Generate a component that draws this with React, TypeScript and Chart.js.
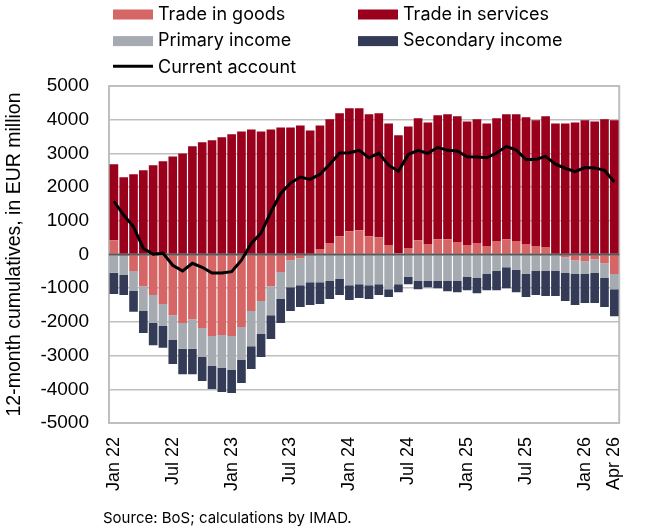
import { useEffect, useRef } from 'react';
import { Chart, registerables, type Plugin } from 'chart.js';

Chart.register(...registerables);

// monthly categories, Jan 22 - Apr 26
const months = [
    'Jan 22', 'Feb 22', 'Mar 22', 'Apr 22', 'May 22', 'Jun 22', 'Jul 22', 'Aug 22', 'Sep 22', 'Oct 22', 'Nov 22', 'Dec 22',
    'Jan 23', 'Feb 23', 'Mar 23', 'Apr 23', 'May 23', 'Jun 23', 'Jul 23', 'Aug 23', 'Sep 23', 'Oct 23', 'Nov 23', 'Dec 23',
    'Jan 24', 'Feb 24', 'Mar 24', 'Apr 24', 'May 24', 'Jun 24', 'Jul 24', 'Aug 24', 'Sep 24', 'Oct 24', 'Nov 24', 'Dec 24',
    'Jan 25', 'Feb 25', 'Mar 25', 'Apr 25', 'May 25', 'Jun 25', 'Jul 25', 'Aug 25', 'Sep 25', 'Oct 25', 'Nov 25', 'Dec 25',
    'Jan 26', 'Feb 26', 'Mar 26', 'Apr 26',
];

const shownTicks = ['Jan 22', 'Jul 22', 'Jan 23', 'Jul 23', 'Jan 24', 'Jul 24', 'Jan 25', 'Jul 25', 'Jan 26', 'Apr 26'];

// 12-month cumulatives, EUR million
const tradeGoods = [
    425, -15, -490, -940, -1200, -1470, -1800, -2030, -1920, -2180, -2420, -2390,
    -2420, -2150, -1680, -1380, -940, -520, -170, -110, -30, 160, 340, 540,
    690, 720, 540, 510, 280, 40, 190, 420, 310, 450, 450, 370,
    280, 340, 250, 400, 450, 400, 310, 250, 220, 0, -80, -170,
    -200, -140, -260, -580,
];

const tradeServices = [
    2255, 2290, 2380, 2500, 2650, 2770, 2910, 3000, 3210, 3330, 3390, 3480,
    3570, 3650, 3710, 3650, 3710, 3770, 3770, 3830, 3680, 3670, 3670, 3650,
    3650, 3620, 3620, 3680, 3610, 3500, 3610, 3620, 3610, 3680, 3710, 3730,
    3670, 3670, 3640, 3640, 3710, 3760, 3760, 3730, 3880, 3890, 3890, 3920,
    3980, 3950, 4010, 3980,
];

const primaryIncome = [
    -545, -595, -590, -740, -830, -650, -740, -770, -880, -860, -890, -980,
    -1010, -980, -1040, -980, -860, -800, -800, -800, -790, -820, -790, -730,
    -910, -880, -910, -880, -1030, -880, -670, -790, -790, -790, -790, -790,
    -670, -700, -580, -490, -380, -460, -580, -490, -490, -490, -470, -410,
    -380, -410, -440, -450,
];

const secondaryIncome = [
    -625, -595, -620, -650, -660, -650, -710, -750, -750, -710, -680, -710,
    -680, -680, -680, -680, -710, -710, -710, -650, -680, -650, -530, -470,
    -440, -410, -410, -320, -230, -240, -210, -240, -180, -210, -300, -330,
    -390, -450, -480, -570, -620, -660, -680, -710, -740, -740, -830, -920,
    -860, -890, -860, -800,
];

const currentAccount = [
    1580, 1170, 820, 180, 10, 40, -320, -490, -260, -380, -550, -550,
    -510, -170, 330, 640, 1260, 1810, 2120, 2300, 2230, 2380, 2680, 3010,
    3020, 3090, 2870, 3010, 2650, 2470, 2970, 3090, 3000, 3180, 3090, 3070,
    2900, 2890, 2870, 3010, 3210, 3100, 2820, 2820, 2910, 2680, 2560, 2460,
    2580, 2570, 2500, 2150,
];

const TEXT_FONT = 'Inter, "Open Sans", sans-serif';
const AXIS_FONT = '"Liberation Sans", Arial, sans-serif';

// legend laid out in two columns above the plot, like the original
const legendPlugin: Plugin = {
    id: 'twoColLegend',
    afterDraw(chart) {
        const ctx = chart.ctx;
        ctx.save();
        ctx.font = `18px ${TEXT_FONT}`;
        ctx.textBaseline = 'alphabetic';
        ctx.fillStyle = '#000';
        chart.data.datasets.forEach((ds, i) => {
            const col = i < 4 ? i % 2 : 0;
            const row = Math.floor(i / 2);
            const x = 113 + col * 245;
            const base = 19.5 + row * 26.6;
            if ((ds as any).type === 'line') {
                ctx.strokeStyle = ds.borderColor as string;
                ctx.lineWidth = 3;
                ctx.beginPath();
                ctx.moveTo(x, base - 6.5);
                ctx.lineTo(x + 40, base - 6.5);
                ctx.stroke();
            } else {
                ctx.fillStyle = ds.backgroundColor as string;
                ctx.fillRect(x, base - 10, 40, 10);
            }
            ctx.fillStyle = '#000';
            ctx.fillText(ds.label ?? '', x + 45, base);
        });
        ctx.font = `15px ${TEXT_FONT}`;
        ctx.fillText('Source: BoS; calculations by IMAD.', 103, 523);
        ctx.restore();
    },
};

// plot frame behind the bars
const framePlugin: Plugin = {
    id: 'frame',
    beforeDatasetsDraw(chart) {
        const { ctx, chartArea } = chart;
        ctx.save();
        ctx.strokeStyle = '#bfbfbf';
        ctx.lineWidth = 2;
        ctx.strokeRect(chartArea.left, chartArea.top, chartArea.right - chartArea.left, chartArea.bottom - chartArea.top);
        ctx.restore();
    },
};

// zero line over the bars, under the current account line
const zeroLinePlugin: Plugin = {
    id: 'zeroLine',
    beforeDatasetDraw(chart, args: any) {
        if (args.meta.type !== 'line') return;
        const { ctx, chartArea } = chart;
        const y = chart.scales.y.getPixelForValue(0);
        ctx.save();
        ctx.strokeStyle = '#595959';
        ctx.lineWidth = 2;
        ctx.beginPath();
        ctx.moveTo(chartArea.left, y);
        ctx.lineTo(chartArea.right, y);
        ctx.stroke();
        ctx.restore();
    },
};

function CurrentAccountChart() {
    const chartRef = useRef<HTMLCanvasElement>(null);
    const chartInstance = useRef<Chart | null>(null);

    useEffect(() => {
        if (!chartRef.current) return;
        if (chartInstance.current) chartInstance.current.destroy();

        const barCommon = {
            type: 'bar' as const,
            stack: 'bop',
            order: 1,
            barPercentage: 0.88,
            categoryPercentage: 1,
        };

        chartInstance.current = new Chart(chartRef.current, {
            type: 'bar',
            data: {
                labels: months,
                datasets: [
                    { ...barCommon, label: 'Trade in goods', data: tradeGoods, backgroundColor: '#d66565' },
                    { ...barCommon, label: 'Trade in services', data: tradeServices, backgroundColor: '#9a001c' },
                    { ...barCommon, label: 'Primary income', data: primaryIncome, backgroundColor: '#a6abb2' },
                    { ...barCommon, label: 'Secondary income', data: secondaryIncome, backgroundColor: '#333b57' },
                    {
                        type: 'line',
                        label: 'Current account',
                        data: currentAccount,
                        stack: 'ca',
                        order: 0,
                        borderColor: '#000000',
                        backgroundColor: '#000000',
                        borderWidth: 3,
                        pointRadius: 0,
                        tension: 0,
                    } as any,
                ],
            },
            options: {
                animation: false,
                responsive: true,
                maintainAspectRatio: false,
                layout: { padding: { top: 86, right: 11, left: 0, bottom: 0 } },
                plugins: {
                    legend: { display: false },
                    tooltip: { enabled: false },
                },
                scales: {
                    x: {
                        stacked: true,
                        offset: true,
                        grid: { display: false, drawTicks: false },
                        border: { display: false },
                        ticks: {
                            autoSkip: false,
                            maxRotation: 90,
                            minRotation: 90,
                            padding: 14,
                            color: '#000',
                            font: { family: AXIS_FONT, size: 18 },
                            callback: (_v, i) => (shownTicks.includes(months[i]) ? months[i] : ''),
                        },
                        afterFit: (scale) => {
                            scale.height = 109;
                        },
                    },
                    y: {
                        stacked: true,
                        min: -5000,
                        max: 5000,
                        grid: { color: '#bfbfbf', lineWidth: 1.5, drawTicks: false },
                        border: { display: false },
                        ticks: {
                            stepSize: 1000,
                            padding: 20,
                            color: '#000',
                            font: { family: AXIS_FONT, size: 19 },
                            callback: (v) => String(v),
                        },
                        title: {
                            display: true,
                            text: '12-month cumulatives, in EUR million',
                            color: '#000',
                            font: { family: AXIS_FONT, size: 19.5 },
                            padding: { top: 3, bottom: 0 },
                        },
                        afterFit: (scale) => {
                            scale.width = 109;
                        },
                    },
                },
            },
            plugins: [framePlugin, zeroLinePlugin, legendPlugin],
        });

        return () => {
            if (chartInstance.current) {
                chartInstance.current.destroy();
                chartInstance.current = null;
            }
        };
    }, []);

    return (
        <div style={{ position: 'absolute', left: 0, top: 0, width: 650, height: 532, background: '#fff' }}>
            <canvas ref={chartRef}></canvas>
        </div>
    );
}

export default function App() {
    return <CurrentAccountChart />;
}
